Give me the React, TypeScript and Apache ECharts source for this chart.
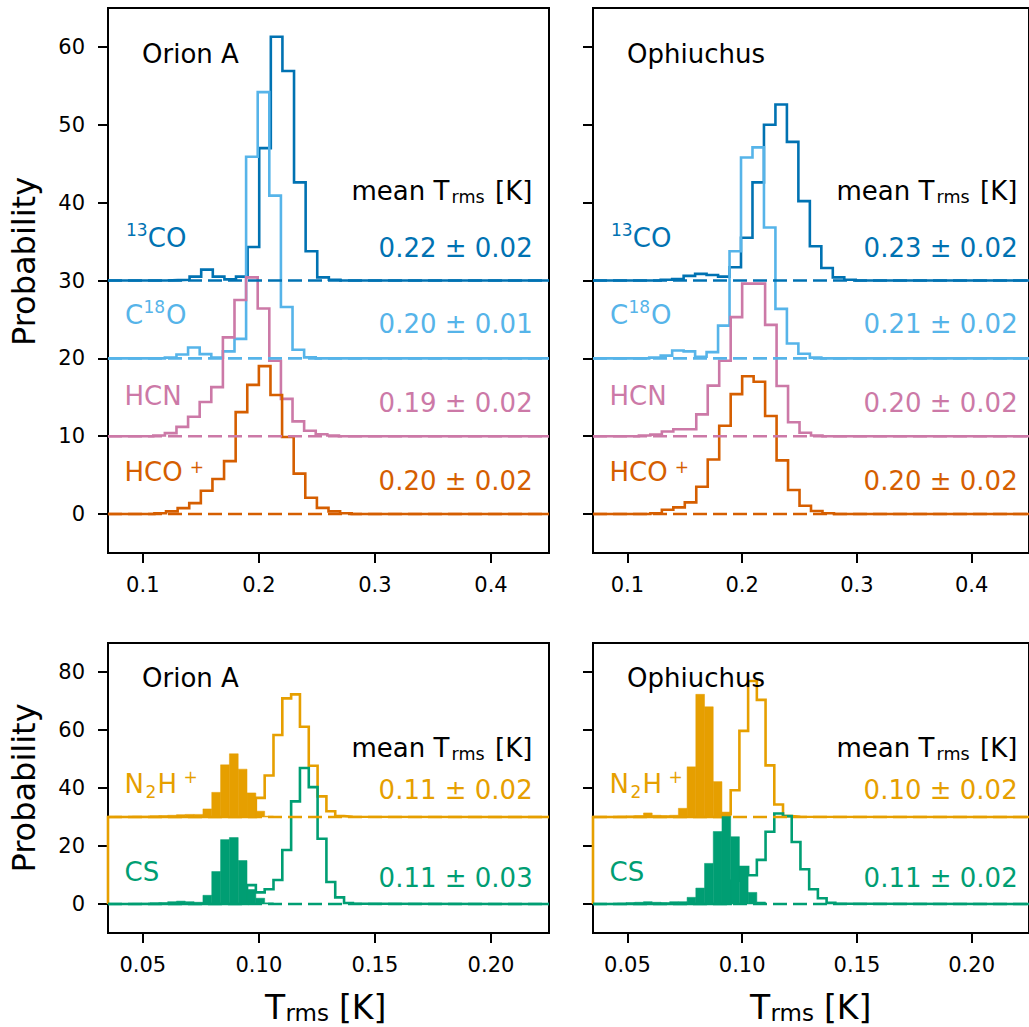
import React, { useEffect, useRef } from 'react';
import * as echarts from 'echarts';

// ---------------- data ----------------
const TOP_OFFSETS = [30, 20, 10, 0];
const BOT_OFFSETS = [30, 0];
const TOP_X_TICKS = [0.1, 0.2, 0.3, 0.4];
const TOP_Y_TICKS = [0, 10, 20, 30, 40, 50, 60];
const BOT_X_TICKS = [0.05, 0.1, 0.15, 0.2];
const BOT_Y_TICKS = [0, 20, 40, 60, 80];
const TOP_X_RANGE = [0.07, 0.45];
const TOP_Y_RANGE = [-5, 65];
const BOT_X_RANGE = [0.035, 0.225];
const BOT_Y_RANGE = [-10, 90];
const TOP_BIN = 0.01;
const BOT_BIN = 0.0038;

// Orion A, top panel
const ORI_13CO_START = 0.1203;
const ORI_13CO = [0.05, 0.1, 0.5, 1.4, 0.5, 0.15, 0.5, 4.3, 17.0, 31.3, 26.9, 12.6, 3.75, 0.4, 0.1];
const ORI_C18O_START = 0.119;
const ORI_C18O = [0.1, 0.5, 1.4, 0.55, 0.1, 0.9, 2.5, 25.9, 34.2, 20.9, 6.6, 1.1, 0.13];
const ORI_HCN_START = 0.109;
const ORI_HCN = [0.1, 0.4, 1.2, 2.5, 4.4, 6.3, 12.7, 17.5, 20.4, 16.4, 9.7, 4.8, 1.9, 0.7, 0.25, 0.1];
const ORI_HCOP_START = 0.11;
const ORI_HCOP = [0.1, 0.35, 0.77, 1.4, 3.0, 4.5, 6.8, 13.1, 16.6, 19.0, 15.3, 9.9, 5.2, 2.1, 0.8, 0.35, 0.1];

// Ophiuchus, top panel
const OPH_13CO_START = 0.129;
const OPH_13CO = [0.1, 0.2, 0.6, 0.85, 0.7, 0.5, 1.7, 5.5, 12.6, 20.0, 22.6, 17.8, 10.2, 4.4, 1.6, 0.4, 0.1];
const OPH_C18O_START = 0.119;
const OPH_C18O = [0.1, 0.35, 1.0, 0.9, 0.2, 0.8, 4.2, 13.75, 25.8, 27.1, 16.8, 6.35, 1.9, 0.6, 0.1];
const OPH_HCN_START = 0.11;
const OPH_HCN = [0.1, 0.2, 0.6, 0.9, 0.9, 2.8, 6.5, 9.7, 15.3, 19.6, 19.6, 14.3, 6.45, 1.8, 0.45, 0.1];
const OPH_HCOP_START = 0.12;
const OPH_HCOP = [0.1, 0.55, 0.86, 1.5, 3.5, 7.0, 11.35, 15.4, 17.7, 17.0, 12.6, 6.9, 3.1, 1.07, 0.4, 0.1];

// Orion A, bottom panel
const ORI_N2HP_FILL_START = 0.0379;
const ORI_N2HP_FILL = [0.2, 0.2, 0.3, 0.3, 0.4, 0.5, 0.6, 0.8, 0.9, 0.9, 2.8, 8.5, 18.0, 21.8, 16.5, 8.3, 2.0, 0.3];
const ORI_N2HP_LINE_START = 0.0987;
const ORI_N2HP_LINE = [6.6, 14.3, 28.3, 40.9, 42.3, 31.1, 17.65, 7.1, 2.0, 0.3, 0.1];
const ORI_CS_FILL_START = 0.0379;
const ORI_CS_FILL = [0.1, 0.1, 0.2, 0.3, 0.4, 0.5, 0.8, 1.0, 0.8, 0.6, 3.0, 11.2, 22.2, 22.9, 15.0, 5.0, 2.0, 0.4];
const ORI_CS_LINE_START = 0.0949;
const ORI_CS_LINE = [6.5, 4.0, 5.1, 8.3, 18.6, 35.4, 46.9, 40.3, 22.5, 7.6, 2.3, 0.35, 0.1];

// Ophiuchus, bottom panel
const OPH_N2HP_FILL_START = 0.0342;
const OPH_N2HP_FILL = [0.1, 0.2, 0.2, 0.3, 0.4, 0.5, 1.4, 0.6, 0.5, 0.6, 3.0, 17.3, 42.3, 38.0, 12.2, 1.7];
const OPH_N2HP_LINE_START = 0.0912;
const OPH_N2HP_LINE = [1.0, 9.2, 29.7, 46.9, 40.4, 17.8, 4.3, 0.3, 0.1];
const OPH_CS_FILL_START = 0.0342;
const OPH_CS_FILL = [0.1, 0.1, 0.2, 0.3, 0.5, 0.6, 0.8, 0.6, 0.5, 0.8, 0.8, 2.3, 5.5, 14.0, 25.0, 30.2, 23.2, 12.5, 4.0, 0.7];
const OPH_CS_LINE_START = 0.095;
const OPH_CS_LINE = [8.0, 12.7, 9.9, 15.2, 24.9, 31.2, 30.3, 21.4, 12.0, 5.1, 2.0, 0.4, 0.1];

const TITLES = ['Orion A', 'Ophiuchus'];
const MEANS_TOP = [
  ['0.22 ± 0.02', '0.20 ± 0.01', '0.19 ± 0.02', '0.20 ± 0.02'],
  ['0.23 ± 0.02', '0.21 ± 0.02', '0.20 ± 0.02', '0.20 ± 0.02'],
];
const MEANS_BOT = [
  ['0.11 ± 0.02', '0.11 ± 0.03'],
  ['0.10 ± 0.02', '0.11 ± 0.02'],
];

// ---------------- styles ----------------
const FONT = '"DejaVu Sans", "Noto Sans", sans-serif';
const C_13CO = '#0072B2';
const C_C18O = '#56B4E9';
const C_HCN = '#CC79A7';
const C_HCOP = '#D55E00';
const C_N2HP = '#E69F00';
const C_CS = '#009E73';
const LW = 2.6;

function stepPoints(start: number, width: number, vals: number[], off: number, range: number[], fromZero = false) {
  const pts: number[][] = [];
  if (fromZero) pts.push([range[0], 0]);
  pts.push([range[0], off]);
  pts.push([start, off]);
  vals.forEach((v, i) => {
    const a = start + i * width;
    pts.push([a, off + v]);
    pts.push([a + width, off + v]);
  });
  pts.push([start + vals.length * width, off]);
  pts.push([range[1], off]);
  return pts;
}

function lineSeries(axis: number, pts: number[][], color: string, z: number, dashed = false) {
  return {
    type: 'line',
    xAxisIndex: axis,
    yAxisIndex: axis,
    data: pts,
    symbol: 'none',
    showSymbol: false,
    silent: true,
    z,
    lineStyle: { color, width: LW, type: dashed ? [14, 6] : 'solid', cap: 'butt', join: 'miter' },
    itemStyle: { color },
  };
}

function fillSeries(axis: number, start: number, width: number, vals: number[], off: number, color: string) {
  return {
    type: 'custom',
    xAxisIndex: axis,
    yAxisIndex: axis,
    silent: true,
    z: 4,
    clip: true,
    encode: { x: [0, 1], y: 2 },
    data: vals.map((v, i) => [start + i * width, start + (i + 1) * width, off + v]),
    renderItem: (params: any, api: any) => {
      const p0 = api.coord([api.value(0), api.value(2)]);
      const p1 = api.coord([api.value(1), off]);
      return {
        type: 'rect',
        shape: { x: p0[0], y: p0[1], width: p1[0] - p0[0], height: p1[1] - p0[1] },
        style: { fill: color, stroke: color, lineWidth: 0.5 },
      };
    },
  };
}

function txt(x: number, baseline: number, text: string, size: number, color: string, align = 'left', rotation = 0) {
  return {
    type: 'text',
    x,
    y: rotation ? baseline : baseline - 0.346 * size,
    rotation,
    silent: true,
    z: 10,
    style: {
      text,
      fill: color,
      fontSize: size,
      fontFamily: FONT,
      align,
      verticalAlign: 'middle',
    },
  };
}

function buildOption() {
  const grids = [
    { left: 108, top: 8, width: 441, height: 545 },
    { left: 593, top: 8, width: 441, height: 545 },
    { left: 108, top: 643, width: 441, height: 290 },
    { left: 593, top: 643, width: 441, height: 290 },
  ].map((g) => ({ ...g, show: true, borderColor: '#000', borderWidth: 2, backgroundColor: 'transparent' }));

  const xAxis = [0, 1, 2, 3].map((i) => {
    const top = i < 2;
    const ticks = top ? TOP_X_TICKS : BOT_X_TICKS;
    const range = top ? TOP_X_RANGE : BOT_X_RANGE;
    return {
      gridIndex: i,
      type: 'value',
      min: range[0],
      max: range[1],
      splitLine: { show: false },
      axisLine: { show: true, onZero: false, lineStyle: { color: '#000', width: 2 } },
      axisTick: { show: true, length: 10, lineStyle: { color: '#000', width: 2 }, customValues: ticks },
      axisLabel: {
        show: true,
        customValues: ticks,
        formatter: (v: number) => v.toFixed(top ? 1 : 2),
        color: '#000',
        fontSize: 21,
        fontFamily: FONT,
        margin: 21,
      },
    };
  });

  const yAxis = [0, 1, 2, 3].map((i) => {
    const top = i < 2;
    const ticks = top ? TOP_Y_TICKS : BOT_Y_TICKS;
    const range = top ? TOP_Y_RANGE : BOT_Y_RANGE;
    return {
      gridIndex: i,
      type: 'value',
      min: range[0],
      max: range[1],
      splitLine: { show: false },
      axisLine: { show: true, onZero: false, lineStyle: { color: '#000', width: 2 } },
      axisTick: { show: true, length: 10, lineStyle: { color: '#000', width: 2 }, customValues: ticks },
      axisLabel: {
        show: i % 2 === 0,
        customValues: ticks,
        color: '#000',
        fontSize: 21,
        fontFamily: FONT,
        margin: 23,
      },
    };
  });

  const series: any[] = [];

  const topSets = [
    [
      [ORI_13CO_START, ORI_13CO, C_13CO],
      [ORI_C18O_START, ORI_C18O, C_C18O],
      [ORI_HCN_START, ORI_HCN, C_HCN],
      [ORI_HCOP_START, ORI_HCOP, C_HCOP],
    ],
    [
      [OPH_13CO_START, OPH_13CO, C_13CO],
      [OPH_C18O_START, OPH_C18O, C_C18O],
      [OPH_HCN_START, OPH_HCN, C_HCN],
      [OPH_HCOP_START, OPH_HCOP, C_HCOP],
    ],
  ];
  topSets.forEach((set, p) => {
    set.forEach((s: any, k) => {
      const off = TOP_OFFSETS[k];
      series.push(lineSeries(p, stepPoints(s[0], TOP_BIN, s[1], off, TOP_X_RANGE), s[2], 2));
      series.push(lineSeries(p, [[TOP_X_RANGE[0], off], [TOP_X_RANGE[1], off]], s[2], 3, true));
    });
  });

  const botSets = [
    [
      [ORI_N2HP_LINE_START, ORI_N2HP_LINE, ORI_N2HP_FILL_START, ORI_N2HP_FILL, C_N2HP],
      [ORI_CS_LINE_START, ORI_CS_LINE, ORI_CS_FILL_START, ORI_CS_FILL, C_CS],
    ],
    [
      [OPH_N2HP_LINE_START, OPH_N2HP_LINE, OPH_N2HP_FILL_START, OPH_N2HP_FILL, C_N2HP],
      [OPH_CS_LINE_START, OPH_CS_LINE, OPH_CS_FILL_START, OPH_CS_FILL, C_CS],
    ],
  ];
  botSets.forEach((set, p) => {
    const axis = p + 2;
    set.forEach((s: any, k) => {
      const off = BOT_OFFSETS[k];
      series.push(lineSeries(axis, stepPoints(s[0], BOT_BIN, s[1], off, BOT_X_RANGE, k === 0), s[4], 2));
      series.push(lineSeries(axis, [[BOT_X_RANGE[0], off], [BOT_X_RANGE[1], off]], s[4], 3, true));
      series.push(fillSeries(axis, s[2], BOT_BIN, s[3], off, s[4]));
    });
  });

  const graphic: any[] = [];
  [0, 1].forEach((p) => {
    const dx = p * 485;
    // top panel
    graphic.push(txt(142 + dx, 62.7, TITLES[p], 26, '#000'));
    graphic.push(txt(351.5 + dx, 200, 'mean T', 26, '#000'));
    graphic.push(txt(451.5 + dx, 203.5, 'rms', 17.5, '#000'));
    graphic.push(txt(495 + dx, 200, '[K]', 26, '#000'));
    const topBase = [256.7, 333.3, 411.7, 490];
    const topCols = [C_13CO, C_C18O, C_HCN, C_HCOP];
    MEANS_TOP[p].forEach((m, k) => graphic.push(txt(532.7 + dx, topBase[k], m, 26, topCols[k], 'right')));
    graphic.push(txt(126 + dx, 236, '13', 17, C_13CO));
    graphic.push(txt(147.8 + dx, 246.7, 'CO', 26, C_13CO));
    graphic.push(txt(125 + dx, 324, 'C', 26, C_C18O));
    graphic.push(txt(143.5 + dx, 313.3, '18', 17, C_C18O));
    graphic.push(txt(166 + dx, 324, 'O', 26, C_C18O));
    graphic.push(txt(124.5 + dx, 405, 'HCN', 26, C_HCN));
    graphic.push(txt(124.5 + dx, 480.7, 'HCO', 26, C_HCOP));
    graphic.push(txt(189.7 + dx, 466.7 + 0.346 * 17, '+', 17, C_HCOP));

    // bottom panel
    graphic.push(txt(142 + dx, 686.5, TITLES[p], 26, '#000'));
    graphic.push(txt(351.5 + dx, 756.7, 'mean T', 26, '#000'));
    graphic.push(txt(451.5 + dx, 760.2, 'rms', 17.5, '#000'));
    graphic.push(txt(495 + dx, 756.7, '[K]', 26, '#000'));
    const botBase = [799.3, 886.7];
    const botCols = [C_N2HP, C_CS];
    MEANS_BOT[p].forEach((m, k) => graphic.push(txt(532.7 + dx, botBase[k], m, 26, botCols[k], 'right')));
    graphic.push(txt(124.5 + dx, 793.3, 'N', 26, C_N2HP));
    graphic.push(txt(145.4 + dx, 797.5, '2', 17, C_N2HP));
    graphic.push(txt(157.4 + dx, 793.3, 'H', 26, C_N2HP));
    graphic.push(txt(183.5 + dx, 776.7 + 0.346 * 17, '+', 17, C_N2HP));
    graphic.push(txt(124.5 + dx, 880.7, 'CS', 26, C_CS));

    // x-axis title
    graphic.push(txt(265 + dx, 1018.5, 'T', 33, '#000'));
    graphic.push(txt(285.5 + dx, 1021, 'rms', 23, '#000'));
    graphic.push(txt(339 + dx, 1018.5, '[K]', 33, '#000'));
  });
  graphic.push(txt(24, 261.5, 'Probability', 32, '#000', 'center', Math.PI / 2));
  graphic.push(txt(24, 788, 'Probability', 32, '#000', 'center', Math.PI / 2));

  return {
    animation: false,
    backgroundColor: '#fff',
    grid: grids,
    xAxis,
    yAxis,
    series,
    graphic,
  };
}

export default function App() {
  const ref = useRef<HTMLDivElement>(null);
  useEffect(() => {
    if (!ref.current) return;
    const chart = echarts.init(ref.current, undefined, { renderer: 'svg' });
    chart.setOption(buildOption() as any);
    return () => chart.dispose();
  }, []);
  return (
    <div
      ref={ref}
      style={{ position: 'fixed', left: 0, top: 0, width: 1029, height: 1027, background: '#fff' }}
    />
  );
}
